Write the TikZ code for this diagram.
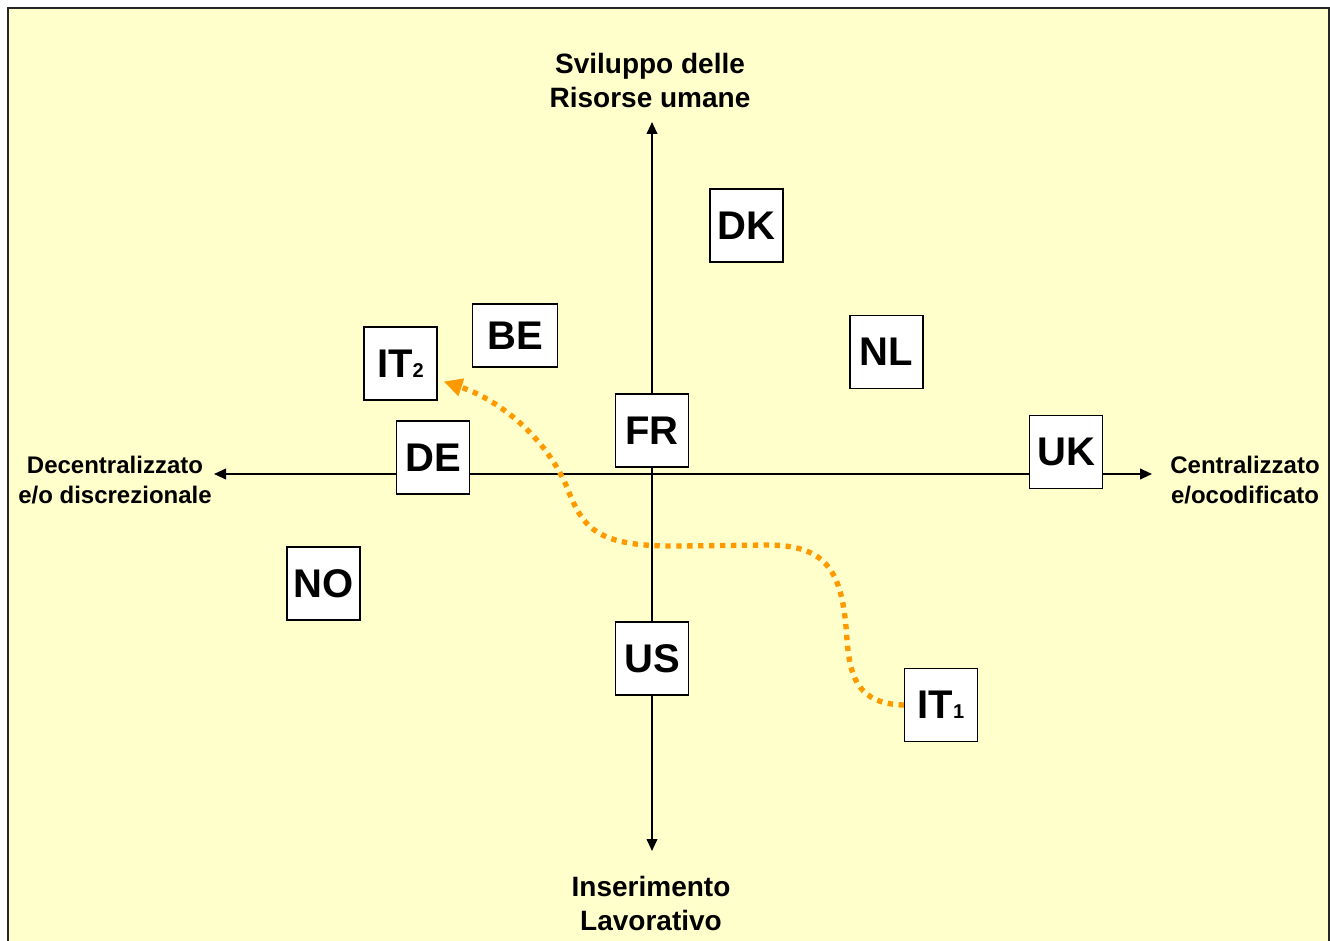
\documentclass[tikz,border=0pt]{standalone}
\usepackage{fontspec}
\setmainfont{Liberation Sans}
\usetikzlibrary{arrows.meta,calc}

\definecolor{paper}{HTML}{FFFFCC}
\definecolor{trail}{HTML}{FF9900}

\tikzset{
  country/.style={draw=black, line width=0.9pt, fill=white, inner sep=0pt,
    minimum width=54.75pt, minimum height=54.75pt,
    font=\fontsize{30}{33}\selectfont\bfseries},
  axis/.style={line width=1.4pt, -{Triangle[length=9pt,width=8pt]}},
  poletop/.style={align=center, font=\fontsize{21}{25.5}\selectfont\bfseries},
  poleside/.style={align=center, font=\fontsize{18}{22.5}\selectfont\bfseries},
  trailpath/.style={draw=trail, line width=4pt, dash pattern=on 4pt off 4.2pt,
    -{Triangle[length=14pt,width=13pt,fill=trail]}},
}
\newcommand{\subidx}[1]{{\fontsize{15}{17}\selectfont #1}}

\begin{document}
\begin{tikzpicture}[x=0.75pt,y=-0.75pt]
  \useasboundingbox (0,0) rectangle (1330,941);
  % page and frame
  \fill[white] (0,0) rectangle (1330,941);
  \fill[paper] (8,8) rectangle (1329,960);
  \draw[line width=1.8pt, black!85] (8,8) rectangle (1329,960);

  % axis end points
  \coordinate (top) at (652,122);
  \coordinate (bottom) at (652,851);
  \coordinate (left) at (214,474);
  \coordinate (right) at (1152,474);
  \coordinate (origin) at (652,474);

  \draw[axis] (origin) -- (top);
  \draw[axis] (origin) -- (bottom);
  \draw[axis] (origin) -- (left);
  \draw[axis] (origin) -- (right);

  % pole labels
  \node[poletop] (ptop) at (650,80) {Sviluppo delle\\Risorse umane};
  \node[poletop] (pbottom) at (651,903) {Inserimento\\Lavorativo};
  \node[poleside] (pleft) at (115,480) {Decentralizzato\\e/o discrezionale};
  \node[poleside] (pright) at (1245,480) {Centralizzato\\e/ocodificato};

  % countries
  \node[country] (dk) at (746.5,225.5) {DK};
  \node[country, minimum width=63.75pt, minimum height=47.25pt] (be) at (515,335.5) {BE};
  \node[country] (it2) at (400.5,363.5) {IT\subidx{2}};
  \node[country] (nl) at (886.5,352) {NL};
  \node[country] (fr) at (652,430.5) {FR};
  \node[country] (de) at (433,457.5) {DE};
  \node[country] (uk) at (1066,452) {UK};
  \node[country] (no) at (323.5,583.5) {NO};
  \node[country] (us) at (652,658.5) {US};
  \node[country] (it1) at (941,705) {IT\subidx{1}};

  % shift from IT1 to IT2
  \coordinate (tip) at ($(it2.east)+(6,18)$);
  \draw[trailpath] (it1.west)
    .. controls (860,704) and (850,680) .. (847,640)
    .. controls (843,575) and (830,546) .. (770,545)
    -- (680,546)
    .. controls (600,547) and (585,530) .. (570,495)
    .. controls (550,440) and (500,400) .. (tip);
\end{tikzpicture}
\end{document}
